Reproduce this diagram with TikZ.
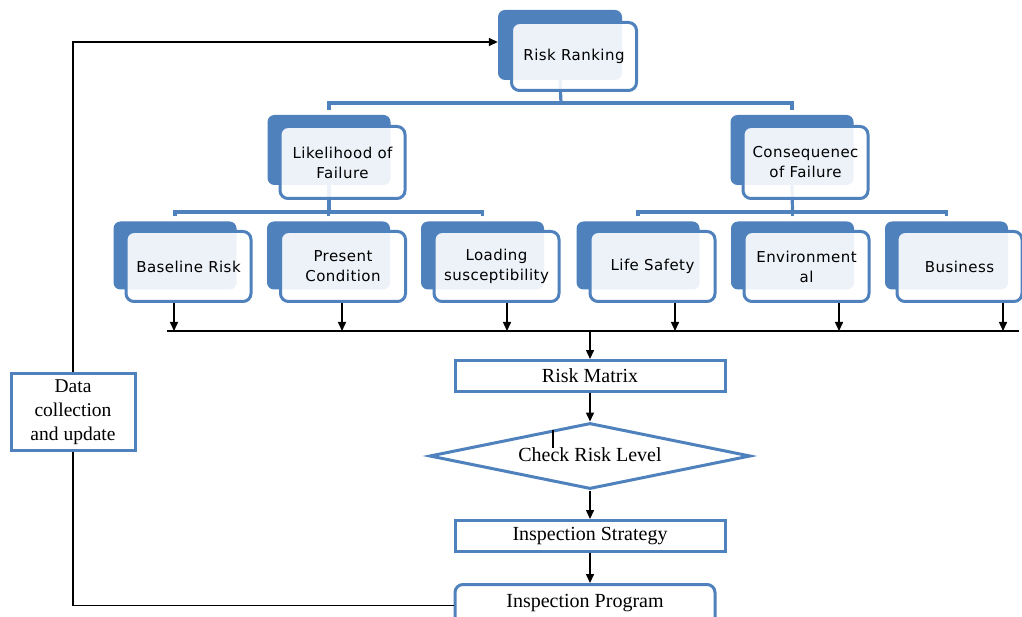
\documentclass[tikz,border=0pt]{standalone}
\usepackage{fontspec}
\setmainfont{Liberation Serif}
\newfontfamily\boxfont[LetterSpace=3]{DejaVu Sans}
\usetikzlibrary{arrows.meta,shapes.geometric}
\definecolor{myblue}{HTML}{4F81BD}
\begin{document}
\begin{tikzpicture}[x=1pt,y=-1pt,
 backbox/.style={fill=myblue, rounded corners=7pt, minimum width=123pt, minimum height=68pt, inner sep=0pt},
 frontbox/.style={draw=myblue, line width=3pt, fill=white, fill opacity=0.9, text opacity=1, rounded corners=8pt, minimum width=125pt, minimum height=70pt, inner sep=0pt, align=center, font=\boxfont\fontsize{15}{20}\selectfont},
 tree/.style={draw=myblue, line width=3.2pt},
 arr/.style={draw=black, line width=1.5pt, -{Triangle[length=9pt,width=8pt]}},
 blackline/.style={draw=black, line width=1.5pt},
 flowbox/.style={draw=myblue, line width=3pt, fill=white, minimum width=270pt, minimum height=31pt, inner sep=0pt, font=\fontsize{20}{24}\selectfont},
]
\fill[white] (0,0) rectangle (1022,617);
\useasboundingbox (0,0) rectangle (1022,617);

% back boxes
\node[backbox, minimum width=124pt, minimum height=70pt] (rr-b) at (560,45) {};
\node[backbox, minimum height=70pt] (lf-b) at (329,150) {};
\node[backbox, minimum height=70pt] (cf-b) at (792,150) {};
\node[backbox] (bl-b) at (175,255.5) {};
\node[backbox] (pc-b) at (328.5,255.5) {};
\node[backbox] (ld-b) at (482.5,255.5) {};
\node[backbox] (ls-b) at (638,255.5) {};
\node[backbox] (env-b) at (792.5,255.5) {};
\node[backbox] (biz-b) at (946.5,255.5) {};

% tree connectors
\coordinate (j1) at (561,103);
\coordinate (j2) at (329,212);
\coordinate (j3) at (792.5,212);
\draw[tree] (rr-b.south) -- (j1);
\draw[tree, shorten <=5pt] (lf-b.north) |- (j1);
\draw[tree, shorten <=5pt] (cf-b.north) |- (j1);
\draw[tree] (lf-b.south) -- (j2);
\draw[tree, shorten <=5pt] (bl-b.north) |- (j2);
\draw[tree, shorten <=5pt] (pc-b.north) |- (j2);
\draw[tree, shorten <=5pt] (ld-b.north) |- (j2);
\draw[tree] (cf-b.south) -- (j3);
\draw[tree, shorten <=5pt] (ls-b.north) |- (j3);
\draw[tree, shorten <=5pt] (env-b.north) |- (j3);
\draw[tree, shorten <=5pt] (biz-b.north) |- (j3);

% front boxes
\node[frontbox, minimum height=68pt] (rr) at (574,56.5) {Risk Ranking};
\node[frontbox, minimum height=72pt] (lf) at (342.5,162.5) {Likelihood of\\Failure};
\node[frontbox, minimum height=72pt] (cf) at (805.5,162.5) {Consequenec\\of Failure};
\node[frontbox] (bl) at (188.5,266.5) {Baseline Risk};
\node[frontbox] (pc) at (343,266.5) {Present\\Condition};
\node[frontbox] (ld) at (496.5,266.5) {Loading\\susceptibility};
\node[frontbox] (ls) at (652.5,266.5) {Life Safety};
\node[frontbox] (env) at (806.5,266.5) {Environment\\al};
\node[frontbox] (biz) at (959.5,266.5) {Business};

% bus
\coordinate (busL) at (167,331);
\coordinate (busR) at (1019,331);
\coordinate (busM) at (590,331);
\draw[blackline] (busL) -- (busR);
\foreach \n/\x in {bl/174, pc/342, ld/507, ls/675, env/839, biz/1003}
  \draw[arr] (\n.south -| \x,331) -- (\x,331);

% flow
\node[flowbox] (rm) at (590,376) {Risk Matrix};
\node[diamond, draw=myblue, line width=3pt, fill=white, aspect=4.76, minimum width=321pt, minimum height=66pt, inner sep=0pt, font=\fontsize{20}{24}\selectfont] (crl) at (590,456) {\raisebox{3pt}{Check Risk Level}};
\node[flowbox] (is) at (590,536) {Inspection Strategy};
\node[draw=myblue, line width=3pt, fill=white, rounded corners=8pt, minimum width=260pt, anchor=north, inner ysep=6pt, text height=17pt, text depth=32pt, font=\fontsize{20}{24}\selectfont] (ip) at (585,583) {Inspection Program};
\node[draw=myblue, line width=3pt, fill=white, minimum width=124pt, minimum height=77pt, inner sep=0pt, align=center, font=\fontsize{19.5}{24}\selectfont] (dc) at (73,412) {Data\\collection\\and update};

\draw[arr] (busM) -- (rm.north);
\draw[arr] (rm.south) -- (crl.north);
\draw[arr] (crl.south) -- (is.north);
\draw[arr] (is.south) -- (is.south |- ip.north);
\draw[black, line width=2pt] (553,430) -- (553,448);

% feedback loop
\draw[blackline] ([yshift=2pt]ip.base west) -| (dc.south);
\draw[arr] (dc.north) |- ([yshift=3pt]rr-b.west);
\end{tikzpicture}
\end{document}
